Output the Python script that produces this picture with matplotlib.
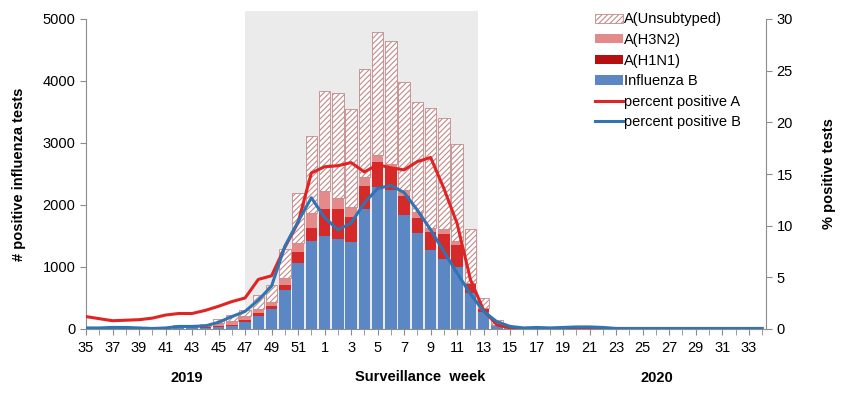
import matplotlib
matplotlib.use("Agg")
import matplotlib.pyplot as plt
import numpy as np
from matplotlib.patches import Patch, Rectangle
from matplotlib.lines import Line2D
import matplotlib.transforms as mtransforms

plt.rcParams['font.family'] = ['Liberation Sans', 'DejaVu Sans']
plt.rcParams['hatch.linewidth'] = 0.8

weeks = list(range(35, 53)) + list(range(1, 35))

flu_b = [0, 0, 0, 0, 0, 5, 5, 40, 40, 20, 25, 50, 106, 214, 327, 633, 1063, 1427,
         1508, 1450, 1402, 1938, 2288, 2244, 1841, 1547, 1278, 1133, 992, 580, 267, 53,
         10, 3, 0, 0, 0, 0, 0, 0, 0, 0, 0, 0, 0, 0, 0, 0, 0, 0, 0, 0]
h1n1 = [0, 0, 0, 0, 0, 0, 0, 0, 0, 10, 20, 20, 33, 44, 37, 70, 177, 194,
        425, 488, 402, 376, 402, 376, 311, 241, 294, 397, 355, 150, 55, 5,
        0, 0, 0, 0, 0, 0, 0, 0, 0, 0, 0, 0, 0, 0, 0, 0, 0, 0, 0, 0]
h3n2 = [0, 0, 0, 0, 0, 0, 0, 0, 0, 20, 55, 55, 64, 64, 71, 119, 155, 258,
        295, 172, 161, 144, 118, 43, 92, 97, 55, 81, 80, 11, 16, 2,
        0, 0, 0, 0, 0, 0, 0, 0, 0, 0, 0, 0, 0, 0, 0, 0, 0, 0, 0, 0]
unsub = [5, 5, 5, 10, 15, 25, 15, 20, 20, 35, 65, 100, 108, 231, 279, 467, 806, 1235,
         1611, 1692, 1584, 1735, 1982, 1987, 1735, 1772, 1933, 1798, 1558, 870, 161, 90,
         5, 2, 0, 0, 0, 0, 0, 0, 0, 0, 0, 0, 0, 0, 0, 0, 0, 0, 0, 0]
pct_a = [1.2, 1.0, 0.8, 0.85, 0.9, 1.05, 1.35, 1.5, 1.5, 1.8, 2.2, 2.65, 3.0, 4.8, 5.15, 7.9, 10.3, 15.1,
         15.7, 15.8, 16.1, 15.2, 15.9, 15.6, 15.4, 16.2, 16.6, 13.6, 10.2, 4.8, 1.8, 0.4,
         0.1, 0.05, 0.05, 0.05, 0.05, 0.05, 0.05, 0.05, 0.05, 0.05, 0.05, 0.05, 0.05, 0.05, 0.05, 0.05, 0.05, 0.05, 0.05, 0.05]
pct_b = [0.1, 0.1, 0.15, 0.15, 0.1, 0.05, 0.1, 0.25, 0.25, 0.3, 0.65, 1.2, 1.7, 2.8, 4.15, 8.0, 10.4, 12.7,
         10.8, 9.6, 10.25, 12.2, 13.6, 13.9, 13.2, 11.5, 9.6, 7.5, 5.4, 3.4, 1.7, 0.7,
         0.25, 0.1, 0.15, 0.1, 0.15, 0.2, 0.2, 0.15, 0.05, 0.05, 0.05, 0.05, 0.05, 0.05, 0.05, 0.05, 0.05, 0.05, 0.05, 0.05]

x = np.arange(len(weeks))
b = np.array(flu_b); h1 = np.array(h1n1); h3 = np.array(h3n2); u = np.array(unsub)

fig = plt.figure(figsize=(8.5, 3.93), dpi=100)
ax = fig.add_axes([86/850, 1-329/393, 680/850, 310/393])
ax2 = ax.twinx()
ax.set_zorder(ax2.get_zorder() - 1)
ax.patch.set_visible(False)

# shaded season
trans = mtransforms.blended_transform_factory(ax.transData, ax.transAxes)
ax.add_patch(Rectangle((12, 0), 17.6, 1.026, transform=trans, facecolor='#ebebeb',
                       edgecolor='none', zorder=0, clip_on=False))

w = 0.86
c_b = '#5b87c5'
c_h1 = '#d42a2a'
c_h3 = '#e58a8a'
ax.bar(x, b, w, color=c_b, zorder=2)
ax.bar(x, h1, w, bottom=b, color=c_h1, zorder=2)
ax.bar(x, h3, w, bottom=b + h1, color=c_h3, zorder=2)
ax.bar(x, u, w, bottom=b + h1 + h3, facecolor='white', edgecolor='#c48888',
       hatch='//////', linewidth=0.6, zorder=2)

ax2.plot(x, pct_a, color='#e02424', lw=2.2, zorder=3)
ax2.plot(x, pct_b, color='#2f74b3', lw=2.2, zorder=4)

ax.set_xlim(0, 51.3)
ax.set_ylim(0, 5000)
ax2.set_ylim(0, 30)
ax.set_yticks(range(0, 5001, 1000))
ax2.set_yticks(range(0, 31, 5))
ax.set_xticks(x, minor=True)
ax.set_xticks(x[::2])
ax.set_xticklabels([str(wk) for wk in weeks[::2]])

spc = '#8c8c8c'
for a in (ax, ax2):
    a.spines['top'].set_visible(False)
    for s in ('left', 'right', 'bottom'):
        a.spines[s].set_color(spc)
    a.tick_params(axis='both', which='both', color=spc, labelsize=10.5, length=4)
ax2.spines['left'].set_visible(False)
ax.spines['right'].set_visible(False)
ax2.spines['bottom'].set_visible(False)
ax.tick_params(axis='x', which='minor', length=4)
ax.tick_params(axis='x', pad=5)

ax.set_ylabel('# positive influenza tests', fontsize=10.5, fontweight='bold', labelpad=12)
ax2.set_ylabel('% positive tests', fontsize=10.5, fontweight='bold', labelpad=21)

fig.text(187/850, 1-378/393, '2019', ha='center', va='center', fontsize=10.5, fontweight='bold')
fig.text(657/850, 1-378/393, '2020', ha='center', va='center', fontsize=10.5, fontweight='bold')
fig.text(420/850, 1-377/393, 'Surveillance  week', ha='center', va='center', fontsize=10.5, fontweight='bold')

handles = [
    Patch(facecolor='white', edgecolor='#c48888', hatch='//////', linewidth=0.6),
    Patch(facecolor=c_h3),
    Patch(facecolor='#b50f0f'),
    Patch(facecolor=c_b),
    Line2D([], [], color='#e02424', lw=2.2),
    Line2D([], [], color='#2f74b3', lw=2.2),
]
labels = ['A(Unsubtyped)', 'A(H3N2)', 'A(H1N1)', 'Influenza B',
          'percent positive A', 'percent positive B']
ax2.legend(handles, labels, loc='upper left', bbox_to_anchor=(0.74, 1.04),
           frameon=False, fontsize=10.5, handlelength=1.9, handleheight=0.6,
           handletextpad=0.1, labelspacing=0.45, borderaxespad=0)

fig.savefig('out.png', dpi=100)
